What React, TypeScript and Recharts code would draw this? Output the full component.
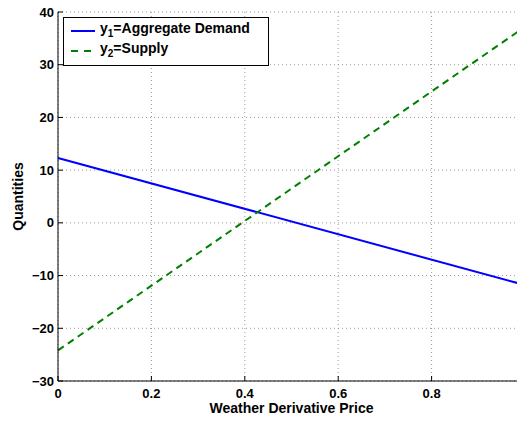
import React from 'react'
import {
  LineChart,
  Line,
  XAxis,
  YAxis,
  CartesianGrid,
  Label,
} from 'recharts'

// values
const prices = [0, 1]
const demand = [12.3, -11.8]
const supply = [-24.2, 37.2]
const xTicks = [0, 0.2, 0.4, 0.6, 0.8, 1]
const yTicks = [-30, -20, -10, 0, 10, 20, 30, 40]

const data = prices.map((p, i) => ({ price: p, demand: demand[i], supply: supply[i] }))

const font = 'Liberation Sans, Arial, Helvetica, sans-serif'
const tickStyle = { fontFamily: font, fontWeight: 700, fontSize: 13, fill: '#000' }
const labelStyle = { fontFamily: font, fontWeight: 700, fontSize: 14, fill: '#000' }

function LegendBox() {
  const row = (color: string, dash: string | undefined, sub: string, text: string) => (
    <div style={{ display: 'flex', alignItems: 'center', height: 20 }}>
      <svg width={36} height={10}>
        <line x1={7} x2={31} y1={5} y2={5} stroke={color} strokeWidth={2} strokeDasharray={dash} />
      </svg>
      <span>
        y<sub style={{ fontSize: 10 }}>{sub}</sub>={text}
      </span>
    </div>
  )
  return (
    <div
      style={{
        position: 'absolute',
        left: 55,
        top: 9,
        width: 204,
        height: 44,
        paddingTop: 3,
        border: '1px solid #000',
        background: '#fff',
        fontFamily: font,
        fontWeight: 700,
        fontSize: 14,
        color: '#000',
        lineHeight: '14px',
      }}
    >
      {row('#0000ff', undefined, '1', 'Aggregate Demand')}
      {row('#008000', '7 6', '2', 'Supply')}
    </div>
  )
}

export default function App() {
  return (
    <div style={{ position: 'relative', width: 517, height: 415 }}>
      <LineChart width={517} height={415} data={data} margin={{ top: 4, right: 0, left: 0, bottom: 0 }}>
        <CartesianGrid stroke='#999' strokeDasharray='1 3' />
        <XAxis
          dataKey='price'
          type='number'
          domain={[0, 1]}
          ticks={xTicks}
          tickFormatter={(v: number) => String(v)}
          tick={tickStyle}
          tickSize={-5}
          tickMargin={13}
          axisLine={{ stroke: '#000' }}
          tickLine={{ stroke: '#000' }}
          height={42}
          interval={0}
        >
          <Label value='Weather Derivative Price' position='insideBottom' offset={10} style={labelStyle} />
        </XAxis>
        <XAxis
          xAxisId='top'
          dataKey='price'
          type='number'
          orientation='top'
          domain={[0, 1]}
          ticks={xTicks}
          tick={false}
          tickSize={-5}
          axisLine={{ stroke: '#000' }}
          tickLine={{ stroke: '#000' }}
          height={0}
        />
        <YAxis
          type='number'
          domain={[-30, 40]}
          ticks={yTicks}
          tickFormatter={(v: number) => String(v).replace('-', '\u2212')}
          tick={tickStyle}
          tickSize={-5}
          tickMargin={9}
          axisLine={{ stroke: '#000' }}
          tickLine={{ stroke: '#000' }}
          width={50}
          interval={0}
        >
          <Label
            value='Quantities'
            angle={-90}
            position='insideLeft'
            offset={10}
            style={{ ...labelStyle, textAnchor: 'middle' }}
          />
        </YAxis>
        <YAxis
          yAxisId='right'
          orientation='right'
          type='number'
          domain={[-30, 40]}
          ticks={yTicks}
          tick={false}
          tickSize={-5}
          axisLine={{ stroke: '#000' }}
          tickLine={{ stroke: '#000' }}
          width={0}
        />
        <Line
          type='linear'
          dataKey='demand'
          stroke='#0000ff'
          strokeWidth={2}
          dot={false}
          isAnimationActive={false}
        />
        <Line
          type='linear'
          dataKey='supply'
          stroke='#008000'
          strokeWidth={2}
          strokeDasharray='7 5'
          dot={false}
          isAnimationActive={false}
        />
      </LineChart>
      <LegendBox />
    </div>
  )
}
